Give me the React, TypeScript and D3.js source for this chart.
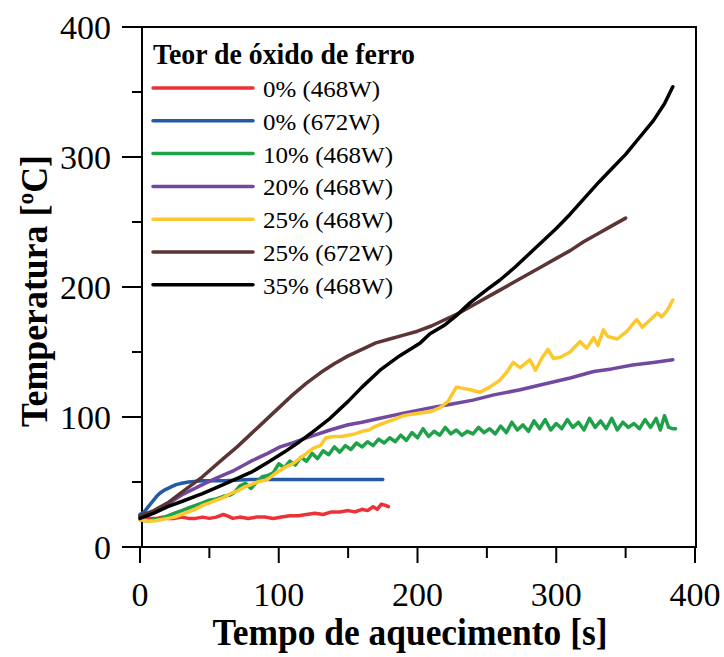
import React from 'react';
import * as d3 from 'd3';

// time [s], temperature [ºC]
const red0_468: [number, number][] = [[0,24],[4,23],[8,22],[12,22],[16,23],[20,22],[25,22],[30,23],[35,22],[40,22],[45,23],[50,22],[55,23],[60,25],[63,24],[67,22],[72,23],[78,22],[84,23],[90,23],[96,22],[102,23],[108,24],[114,24],[120,25],[126,26],[132,25],[138,27],[144,27],[150,28],[155,27],[160,29],[164,28],[168,31],[171,29],[174,33],[177,32],[179,31]];
const blue0_672: [number, number][] = [[0,25],[3,27],[6,31],[9,35],[12,39],[15,42],[18,44],[22,46],[26,48],[30,49],[35,50],[45,51],[60,51],[80,52],[100,52],[125,52],[150,52],[175,52]];
const green10_468: [number, number][] = [[0,21],[5,20],[10,21],[15,22],[20,24],[25,26],[30,28],[35,30],[40,32],[45,34],[50,36],[55,37],[60,39],[65,40],[68,42],[72,47],[76,49],[80,45],[84,50],[88,54],[92,55],[96,57],[100,64],[104,61],[108,66],[112,63],[116,69],[120,66],[124,72],[128,68],[132,74],[136,71],[140,77],[144,73],[148,78],[152,75],[156,80],[160,77],[164,81],[168,78],[172,83],[176,80],[180,84],[184,81],[188,86],[192,82],[196,88],[200,84],[204,91],[208,85],[212,89],[216,86],[220,92],[224,87],[228,90],[232,86],[236,89],[240,87],[244,92],[248,88],[252,91],[256,87],[260,93],[264,88],[268,96],[272,90],[276,94],[280,89],[284,97],[288,91],[292,98],[296,90],[300,95],[304,91],[308,98],[312,92],[316,96],[320,90],[324,99],[328,92],[332,97],[336,91],[340,99],[344,90],[348,96],[352,92],[356,95],[360,91],[364,98],[368,92],[372,99],[375,90],[378,101],[381,92],[384,91],[386,91]];
const purple20_468: [number, number][] = [[0,23],[10,27],[20,33],[30,40],[45,48],[55,53],[68,59],[80,66],[92,72],[101,77],[110,80],[120,84],[137,90],[150,94],[160,96],[173,99],[190,103],[209,107],[225,110],[240,113],[255,117],[274,121],[290,125],[310,130],[327,135],[340,137],[355,140],[370,142],[384,144]];
const yellow25_468: [number, number][] = [[0,21],[5,20],[10,20],[15,21],[20,22],[25,23],[30,25],[35,27],[40,29],[45,32],[50,34],[55,36],[60,38],[65,41],[70,43],[75,46],[80,48],[85,50],[92,52],[98,57],[104,61],[110,64],[115,68],[120,72],[125,76],[130,78],[134,84],[140,85],[145,85],[150,86],[155,87],[160,89],[165,90],[170,93],[175,95],[180,97],[185,99],[190,101],[195,102],[202,103],[209,104],[216,107],[222,112],[228,123],[233,122],[238,121],[245,119],[252,123],[259,128],[264,134],[269,142],[274,138],[281,144],[285,136],[290,146],[294,152],[298,145],[303,146],[310,150],[317,158],[322,153],[327,161],[330,155],[334,167],[337,162],[344,160],[351,166],[358,175],[362,169],[368,175],[373,180],[376,177],[380,182],[384,190]];
const brown25_672: [number, number][] = [[0,24],[10,28],[20,34],[30,42],[45,54],[60,68],[70,77],[80,87],[90,97],[100,107],[110,117],[120,126],[130,134],[140,141],[150,147],[160,152],[170,157],[180,160],[190,163],[200,166],[210,170],[220,175],[230,180],[240,186],[250,192],[260,198],[270,204],[280,210],[290,216],[300,222],[310,228],[320,235],[330,241],[340,247],[350,253]];
const black35_468: [number, number][] = [[0,22],[10,26],[20,31],[30,35],[45,41],[60,48],[81,58],[92,65],[104,73],[115,81],[125,89],[137,99],[150,112],[160,123],[173,136],[187,147],[202,157],[209,164],[220,171],[228,178],[238,188],[250,198],[259,205],[270,215],[280,225],[290,235],[300,245],[310,256],[320,268],[331,281],[340,291],[350,302],[360,315],[370,328],[378,341],[384,354]];

const seriesLabels = ['0% (468W)', '0% (672W)', '10% (468W)', '20% (468W)', '25% (468W)', '25% (672W)', '35% (468W)'];
const seriesData = [red0_468, blue0_672, green10_468, purple20_468, yellow25_468, brown25_672, black35_468];
const colors = ['#ec3237', '#2459a8', '#1fa14a', '#7249a0', '#fdc82c', '#5b3434', '#000000'];

const xTicks = [0, 100, 200, 300, 400];
const xMinor = [50, 150, 250, 350];
const yTicks = [0, 100, 200, 300, 400];
const yMinor = [50, 150, 250, 350];

const W = 724;
const H = 657;
const frame = { left: 142, right: 696, top: 27, bottom: 547 };
const serif = { fontFamily: "'Liberation Serif', 'Times New Roman', Times, 'DejaVu Serif', serif" };

// the reference uses a narrow Times-like face; squeeze the fallback to that width
const digitW = 17;
const legendW = (label: string) => 117 + (label.indexOf('%') - 1) * 13;

export default function App() {
  const x = d3.scaleLinear().domain([0, 400]).range([140, 695]);
  const y = d3.scaleLinear().domain([0, 400]).range([frame.bottom, frame.top]);
  const line = d3.line<[number, number]>().x((d) => x(d[0])).y((d) => y(d[1]));

  return (
    <svg width={W} height={H} style={{ position: 'absolute', left: 0, top: 0, background: '#fff' }}>
      {/* frame */}
      <rect x={frame.left} y={frame.top} width={frame.right - frame.left} height={frame.bottom - frame.top}
        fill="none" stroke="#000" strokeWidth={2} />

      {/* y axis ticks */}
      {yTicks.map((t) => (
        <g key={'y' + t}>
          <line x1={122} x2={frame.left} y1={y(t)} y2={y(t)} stroke="#000" strokeWidth={2} />
          <text x={111} y={y(t)} dy="0.35em" textAnchor="end" fontSize={34} fill="#000" style={serif}
            textLength={String(t).length * digitW} lengthAdjust="spacingAndGlyphs">{t}</text>
        </g>
      ))}
      {yMinor.map((t) => (
        <line key={'ym' + t} x1={132} x2={frame.left} y1={y(t)} y2={y(t)} stroke="#000" strokeWidth={2} />
      ))}

      {/* x axis ticks */}
      {xTicks.map((t) => (
        <g key={'x' + t}>
          <line x1={x(t)} x2={x(t)} y1={frame.bottom} y2={563} stroke="#000" strokeWidth={2} />
          <text x={x(t)} y={606} textAnchor="middle" fontSize={33} fill="#000" style={serif}
            textLength={String(t).length * digitW} lengthAdjust="spacingAndGlyphs">{t}</text>
        </g>
      ))}
      {xMinor.map((t) => (
        <line key={'xm' + t} x1={x(t)} x2={x(t)} y1={frame.bottom} y2={558} stroke="#000" strokeWidth={2} />
      ))}

      {/* series */}
      {seriesData.map((d, i) => (
        <path key={'s' + i} d={line(d) || ''} fill="none" stroke={colors[i]} strokeWidth={3.5}
          strokeLinejoin="round" strokeLinecap="round" />
      ))}

      {/* legend */}
      <text x={153} y={64} fontSize={29} fontWeight="bold" fill="#000" style={serif}
        textLength={262} lengthAdjust="spacingAndGlyphs">
        Teor de óxido de ferro
      </text>
      {seriesLabels.map((label, i) => {
        const ly = 88 + i * 32.8;
        return (
          <g key={'l' + i}>
            <line x1={153} x2={253} y1={ly} y2={ly} stroke={colors[i]} strokeWidth={3.5} strokeLinecap="round" />
            <text x={263} y={ly + 9} fontSize={24} fill="#000" style={serif}
              textLength={legendW(label)} lengthAdjust="spacingAndGlyphs">{label}</text>
          </g>
        );
      })}

      {/* axis titles */}
      <text x={410} y={645} textAnchor="middle" fontSize={38} fontWeight="bold" fill="#000" style={serif}
        textLength={395} lengthAdjust="spacingAndGlyphs">
        Tempo de aquecimento [s]
      </text>
      <text transform="translate(47,291) rotate(-90)" textAnchor="middle" fontSize={38} fontWeight="bold" fill="#000"
        style={serif} textLength={272} lengthAdjust="spacingAndGlyphs">
        Temperatura [ºC]
      </text>
    </svg>
  );
}
